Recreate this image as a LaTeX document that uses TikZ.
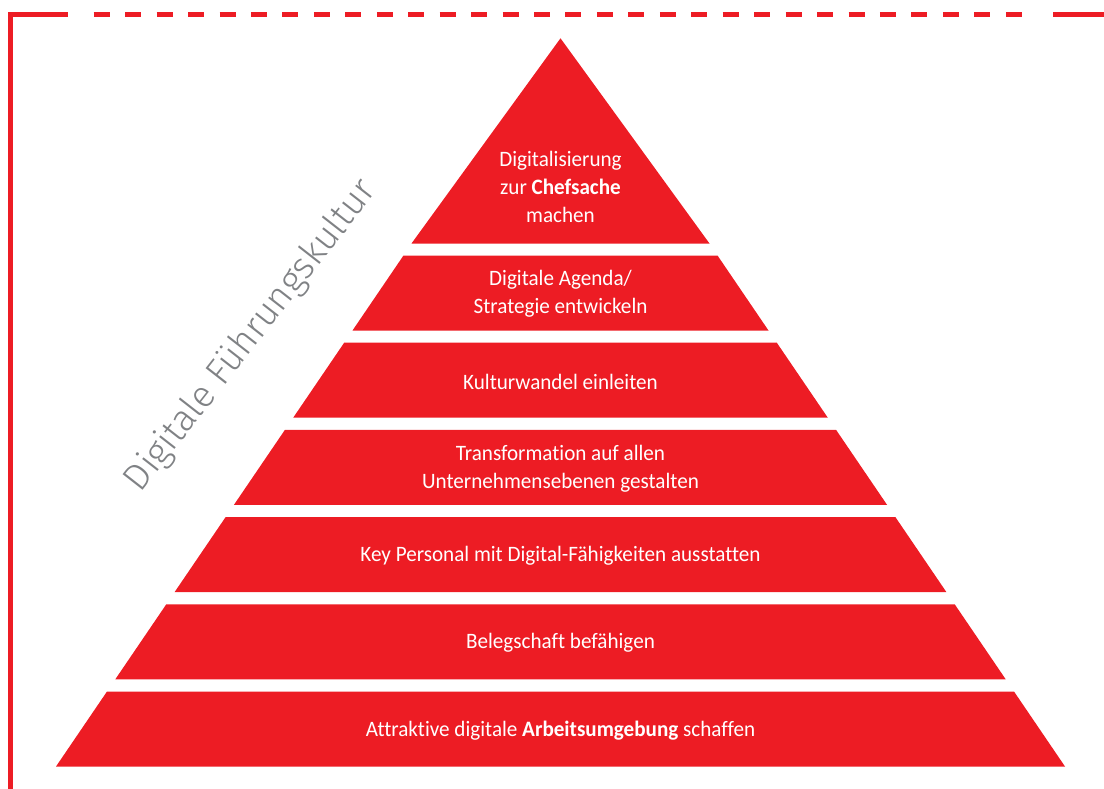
\documentclass[tikz,border=0pt]{standalone}
\usepackage{fontspec}
\setmainfont[FakeStretch=0.96, Ligatures={NoCommon,NoRare}]{Carlito}
\newfontfamily\thinfont[UprightFont=* Light]{Fira Sans}
\usetikzlibrary{positioning}
\definecolor{pyrred}{RGB}{237,28,36}
\definecolor{labelgrey}{RGB}{128,130,133}

\begin{document}
\begin{tikzpicture}[x=1pt, y=-1pt, band/.style={fill=pyrred}, band text/.style={text=white, align=center, font=\fontsize{22}{28}\selectfont}, frame line/.style={draw=pyrred, line width=5pt}]
\useasboundingbox (0,0) rectangle (1104,789);
%frame
\coordinate (fbottom) at (10.5,789);
\coordinate (fcorner) at (10.5,14.5);
\coordinate (fsolid) at (68,14.5);
\coordinate (fdashA) at (93.7,14.5);
\coordinate (fdashB) at (1022,14.5);
\coordinate (fright) at (1053,14.5);
\coordinate (fend) at (1104,14.5);
\draw[frame line] (fbottom) -- (fcorner) -- (fsolid);
\draw[frame line, dash pattern=on 16pt off 15.45pt] (fdashA) -- (fdashB);
\draw[frame line] (fright) -- (fend);
%pyramid
\begin{scope}
\fill[band] (560.5,38.3) -- (709.5,243.5) -- (411.5,243.5) -- cycle;
\fill[band] (403.5,255.5) -- (717.5,255.5) -- (768.5,330.5) -- (352.5,330.5) -- cycle;
\fill[band] (344.2,342.7) -- (776.8,342.7) -- (827.8,417.7) -- (293.2,417.7) -- cycle;
\fill[band] (284.9,429.9) -- (836.1,429.9) -- (887.1,504.9) -- (233.9,504.9) -- cycle;
\fill[band] (225.6,517.1) -- (895.4,517.1) -- (946.4,592.1) -- (174.6,592.1) -- cycle;
\fill[band] (166.3,604.3) -- (954.7,604.3) -- (1005.7,679.3) -- (115.3,679.3) -- cycle;
\fill[band] (107,691.5) -- (1014,691.5) -- (1065,766.5) -- (56,766.5) -- cycle;
\end{scope}
\begin{scope}[every node/.style={band text}]
\node (tip) at (560.5,187) {Digitalisierung\\zur \textbf{Chefsache}\\machen};
\node (agenda) at (560.5,294) {Digitale Agenda/\\Strategie entwickeln};
\node (kultur) at (560.5,381.5) {Kulturwandel einleiten};
\node (trans) at (560.5,469) {Transformation auf allen\\Unternehmensebenen gestalten};
\node (key) at (560.5,556) {Key Personal mit Digital-Fähigkeiten ausstatten};
\node (beleg) at (560.5,643) {Belegschaft befähigen};
\node (arbeit) at (560.5,730.5) {Attraktive digitale \textbf{Arbeitsumgebung} schaffen};
\end{scope}
\node[text=labelgrey, rotate=52, font=\thinfont\fontsize{37}{40}\selectfont] (kulturlabel) at (251,336) {Digitale Führungskultur};
\end{tikzpicture}
\end{document}
